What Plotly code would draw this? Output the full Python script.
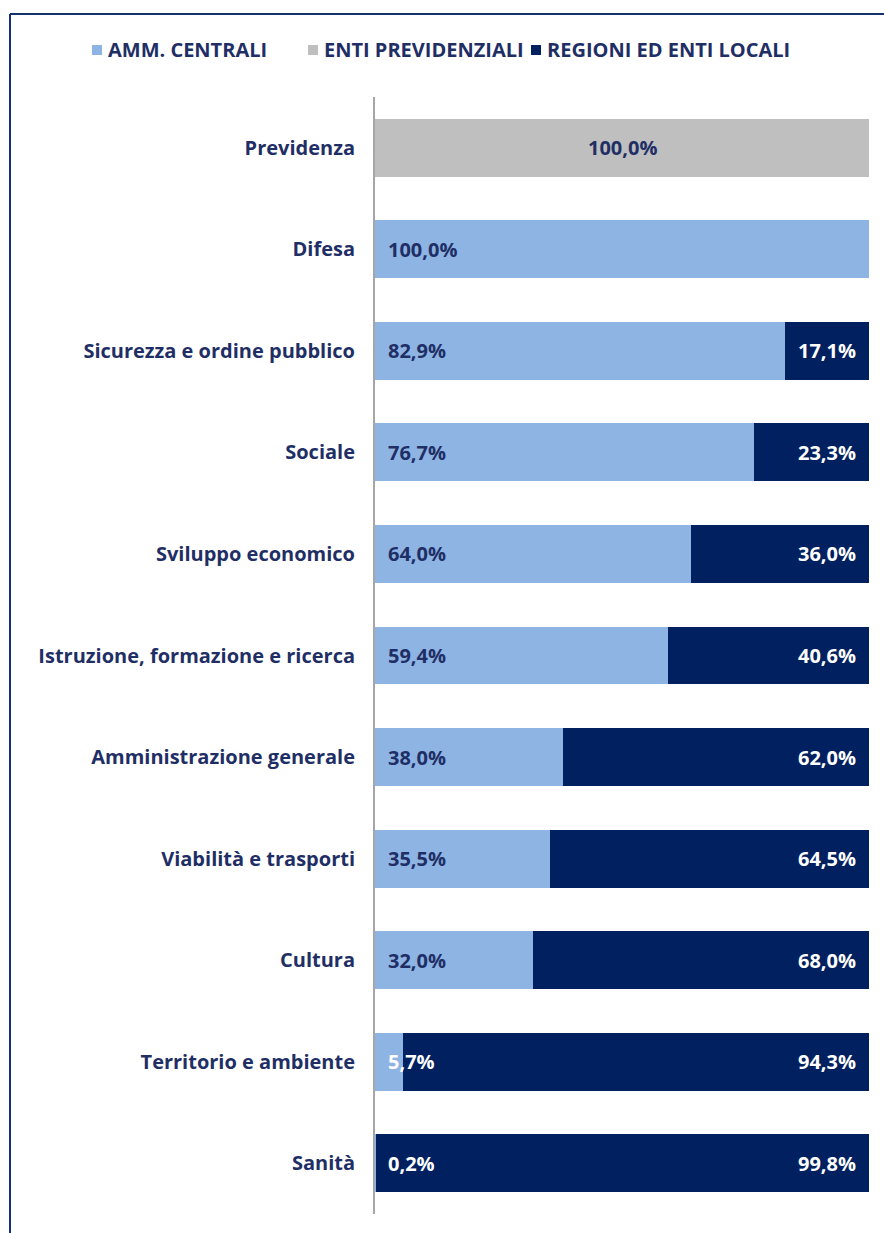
import plotly.graph_objects as go

categories = ["Previdenza", "Difesa", "Sicurezza e ordine pubblico", "Sociale",
              "Sviluppo economico", "Istruzione, formazione e ricerca",
              "Amministrazione generale", "Viabilità e trasporti", "Cultura",
              "Territorio e ambiente", "Sanità"]
amm_centrali = [0, 100.0, 82.9, 76.7, 64.0, 59.4, 38.0, 35.5, 32.0, 5.7, 0.2]
enti_previdenziali = [100.0, 0, 0, 0, 0, 0, 0, 0, 0, 0, 0]
regioni_enti_locali = [0, 0, 17.1, 23.3, 36.0, 40.6, 62.0, 64.5, 68.0, 94.3, 99.8]
series_names = ["AMM. CENTRALI", "ENTI PREVIDENZIALI", "REGIONI ED ENTI LOCALI"]

C_LIGHT = "#8EB4E3"
C_GREY = "#BFBFBF"
C_NAVY = "#002060"
C_TEXT = "#1F2F66"
FONT = "Open Sans"

W, H = 884, 1233
L, R, T, B = 375, 15, 97, 19
PW, PH = W - L - R, H - T - B

def fmt(v):
    return f"{v:.1f}".replace(".", ",") + "%"

fig = go.Figure()
for name, vals, col in zip(series_names,
                           [amm_centrali, enti_previdenziali, regioni_enti_locali],
                           [C_LIGHT, C_GREY, C_NAVY]):
    fig.add_trace(go.Bar(y=categories, x=vals, name=name, orientation="h",
                         marker=dict(color=col, line=dict(width=0)), width=0.57,
                         showlegend=False))

annos = []
lab_font = dict(family=FONT, size=20, color=C_TEXT, weight="bold")
for cat, a, e, r in zip(categories, amm_centrali, enti_previdenziali, regioni_enti_locali):
    if a > 0:
        col = C_TEXT if a >= 10 else "white"
        annos.append(dict(x=0, y=cat, xref="x", yref="y", text=fmt(a), showarrow=False,
                          xanchor="left", xshift=11, font={**lab_font, "color": col}))
    if e > 0:
        annos.append(dict(x=a + e / 2, y=cat, xref="x", yref="y", text=fmt(e), showarrow=False,
                          xanchor="center", font=lab_font))
    if r > 0:
        annos.append(dict(x=a + e + r, y=cat, xref="x", yref="y", text=fmt(r), showarrow=False,
                          xanchor="right", xshift=-11, font={**lab_font, "color": "white"}))

# manual legend
def px_to_paper_x(px):
    return (px - L) / PW

def px_to_paper_y(py):
    return 1 - (py - T) / PH

shapes = []
leg_x = [92, 308, 531]
leg_y = 50
for nm, col, lx in zip(series_names, [C_LIGHT, C_GREY, C_NAVY], leg_x):
    shapes.append(dict(type="rect", xref="paper", yref="paper",
                       x0=px_to_paper_x(lx), x1=px_to_paper_x(lx + 10),
                       y0=px_to_paper_y(leg_y + 5), y1=px_to_paper_y(leg_y - 5),
                       fillcolor=col, line=dict(width=0)))
    annos.append(dict(x=px_to_paper_x(lx + 14), y=px_to_paper_y(leg_y), xref="paper", yref="paper",
                      text=nm, showarrow=False, xanchor="left", yanchor="middle",
                      font=dict(family=FONT, size=20, color=C_TEXT, weight="bold")))

# frame (top and left borders)
shapes.append(dict(type="line", xref="paper", yref="paper",
                   x0=px_to_paper_x(10), x1=px_to_paper_x(W + 5),
                   y0=px_to_paper_y(14), y1=px_to_paper_y(14),
                   line=dict(color="#14306E", width=2)))
shapes.append(dict(type="line", xref="paper", yref="paper",
                   x0=px_to_paper_x(10), x1=px_to_paper_x(10),
                   y0=px_to_paper_y(14), y1=px_to_paper_y(H + 5),
                   line=dict(color="#14306E", width=2)))

fig.update_layout(
    barmode="stack",
    width=W, height=H,
    margin=dict(l=L, r=R, t=T, b=B),
    paper_bgcolor="white", plot_bgcolor="white",
    showlegend=False,
    annotations=annos,
    shapes=shapes,
    xaxis=dict(range=[0, 100], visible=False, fixedrange=True),
    yaxis=dict(categoryorder="array", categoryarray=categories[::-1],
               range=[-0.5, 10.5], showline=True, linecolor="#A6A6A6", linewidth=2,
               ticks="", ticklabelstandoff=14, showgrid=False,
               tickfont=dict(family=FONT, size=20, color=C_TEXT, weight="bold")),
)

fig.write_html("out.html")
